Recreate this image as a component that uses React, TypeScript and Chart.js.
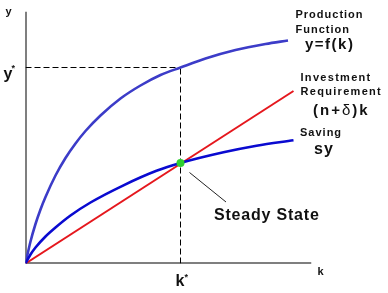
import { useEffect, useRef } from "react";
import { Chart, registerables } from "chart.js";

Chart.register(...registerables);

// Capital per worker (k) and output values (arbitrary units)
const prodK = [0, 5, 10, 15, 20, 30, 40, 50, 60, 75, 95, 115, 135, 155, 180, 210, 240, 262.5];
const prodY = [0, 22, 39.5, 54, 66.5, 88, 105.5, 120, 132.5, 148, 165, 178, 188.5, 196, 205, 213.5, 219.5, 223];
const saveK = [0, 5, 10, 20, 30, 45, 65, 98, 131, 155, 198, 231, 268];
const saveY = [0, 9, 16, 27, 36, 48, 61, 78.2, 92.7, 100.5, 111.2, 117.8, 123.2];
const invK = [0, 268];
const invY = [0, 172.5];
const kStar = 155;
const yStar = 196;
const steadyY = 100.5;
const xMax = 286;
const yMax = 252;

const FONT = '"Liberation Sans", Arial, sans-serif';

const pts = (xs: number[], ys: number[]) => xs.map((x, i) => ({ x, y: ys[i] }));

const textPlugin = {
  id: "annotText",
  afterDatasetsDraw(chart: any) {
    const ctx = chart.ctx as CanvasRenderingContext2D;
    const xs = chart.scales.x;
    const ys = chart.scales.y;
    const left = xs.getPixelForValue(0);
    const right = xs.getPixelForValue(xMax);
    const bottom = ys.getPixelForValue(0);
    const top = ys.getPixelForValue(yMax);
    const kPx = xs.getPixelForValue(kStar);
    const yPx = ys.getPixelForValue(yStar);
    const sPx = ys.getPixelForValue(steadyY);

    const put = (t: string, x: number, y: number, size: number, bold = true, ls = 0) => {
      ctx.save();
      ctx.font = `${bold ? "bold " : ""}${size}px ${FONT}`;
      (ctx as any).letterSpacing = `${ls}px`;
      ctx.fillStyle = "#111";
      ctx.textAlign = "left";
      ctx.textBaseline = "alphabetic";
      ctx.fillText(t, x, y);
      const w = ctx.measureText(t).width;
      ctx.restore();
      return w;
    };

    // pointer to steady state
    ctx.save();
    ctx.strokeStyle = "#222";
    ctx.lineWidth = 1;
    ctx.beginPath();
    ctx.moveTo(kPx + 9, sPx + 9.5);
    ctx.lineTo(kPx + 45.5, sPx + 39);
    ctx.stroke();
    ctx.restore();

    // axis labels
    put("y", left - 20, top + 3.5, 11);
    put("y", left - 22, yPx + 11, 16);
    put("*", left - 14, yPx + 3, 9);
    put("k", kPx - 5, bottom + 22.5, 16);
    put("*", kPx + 4, bottom + 16.5, 9);
    put("k", right + 6, bottom + 11.5, 11);

    // right-hand labels
    put("Production", right - 16, top + 6.5, 11, true, 1);
    put("Function", right - 16, top + 21.5, 11, true, 1);
    put("y=f(k)", right - 6.5, top + 37, 15, true, 1.5);

    put("Investment", right - 11, top + 69, 11, true, 1.3);
    put("Requirement", right - 11, top + 83.5, 11, true, 1.3);
    let cx = right + 1.5;
    const by = top + 103.5;
    cx += put("(n+", cx, by, 15, true, 2);
    cx += put("\u03b4", cx, by, 15, false, 2);
    put(")k", cx, by, 15, true, 2);

    put("Saving", right - 11.5, top + 124, 11, true, 1);
    put("sy", right + 2.5, top + 142.5, 16, true, 1);

    put("Steady State", kPx + 33.5, sPx + 57, 16, true, 0.8);
  },
};

export default function App() {
  const ref = useRef<HTMLCanvasElement | null>(null);

  useEffect(() => {
    if (!ref.current) return;
    const chart = new Chart(ref.current, {
      type: "scatter",
      data: {
        datasets: [
          {
            label: "Steady state",
            data: [{ x: kStar, y: steadyY }],
            showLine: false,
            pointRadius: 4,
            pointBackgroundColor: "#2fcf2f",
            pointBorderWidth: 0,
            order: 0,
          },
          {
            label: "Production y=f(k)",
            data: pts(prodK, prodY),
            showLine: true,
            borderColor: "#3c3cc8",
            borderWidth: 2.6,
            pointRadius: 0,
            cubicInterpolationMode: "monotone",
            order: 3,
          },
          {
            label: "Saving sy",
            data: pts(saveK, saveY),
            showLine: true,
            borderColor: "#0a0ad0",
            borderWidth: 2.6,
            pointRadius: 0,
            cubicInterpolationMode: "monotone",
            order: 2,
          },
          {
            label: "Investment requirement (n+δ)k",
            data: pts(invK, invY),
            showLine: true,
            borderColor: "#e5171d",
            borderWidth: 2,
            pointRadius: 0,
            order: 4,
          },
          {
            label: "k* guide",
            data: [{ x: kStar, y: 0 }, { x: kStar, y: yStar }],
            showLine: true,
            borderColor: "#000",
            borderWidth: 1,
            borderDash: [6, 3],
            pointRadius: 0,
            order: 6,
          },
          {
            label: "y* guide",
            data: [{ x: 0, y: yStar }, { x: kStar, y: yStar }],
            showLine: true,
            borderColor: "#000",
            borderWidth: 1,
            borderDash: [6, 3],
            pointRadius: 0,
            order: 6,
          },
          {
            label: "y axis",
            data: [{ x: 0, y: 0 }, { x: 0, y: yMax }],
            showLine: true,
            borderColor: "#000",
            borderWidth: 2,
            pointRadius: 0,
            order: 5,
          },
          {
            label: "k axis",
            data: [{ x: 0, y: 0 }, { x: xMax, y: 0 }],
            showLine: true,
            borderColor: "#000",
            borderWidth: 2,
            pointRadius: 0,
            order: 5,
          },
        ],
      },
      options: {
        responsive: false,
        animation: false,
        layout: { padding: { left: 25.5, right: 76.5, top: 11.5, bottom: 29.5 } },
        plugins: { legend: { display: false }, tooltip: { enabled: false } },
        scales: {
          x: { type: "linear", min: 0, max: xMax, display: false },
          y: { type: "linear", min: 0, max: yMax, display: false },
        },
      } as any,
      plugins: [textPlugin],
    });
    return () => chart.destroy();
  }, []);

  return (
    <div style={{ position: "absolute", left: 0, top: 0, width: 388, height: 293, background: "#fff" }}>
      <canvas ref={ref} width={388} height={293} style={{ display: "block" }} />
    </div>
  );
}
